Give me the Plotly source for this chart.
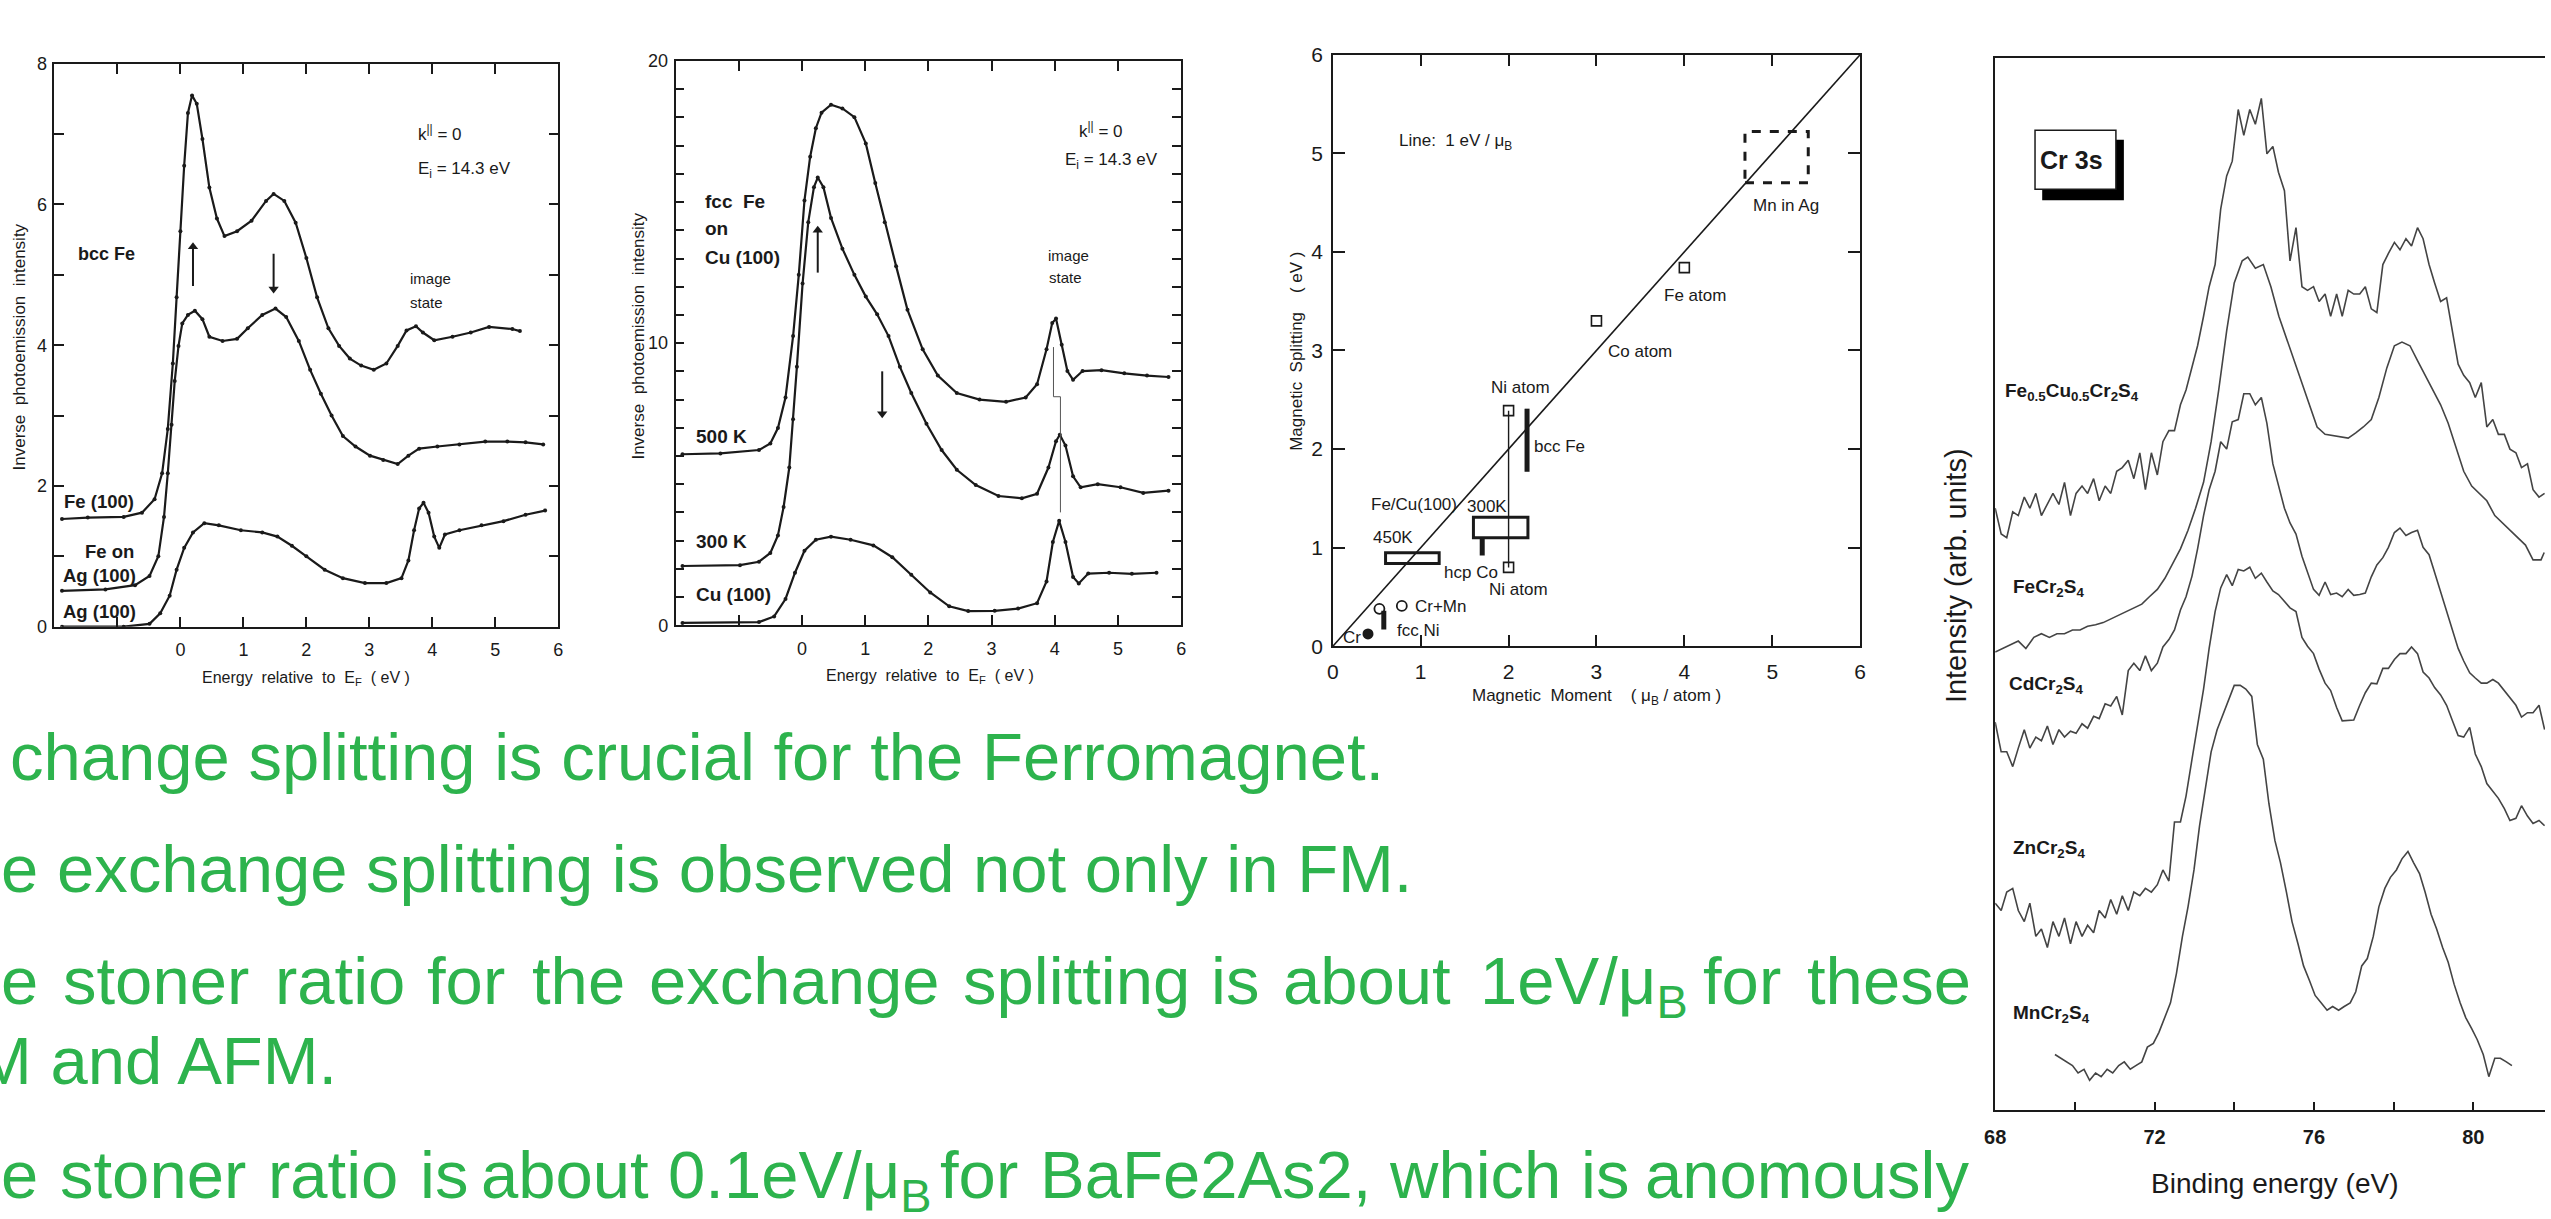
import plotly.graph_objects as go

W, H = 2551, 1219
FONT = "Liberation Sans, Arial, Helvetica, sans-serif"
GREEN = "#2DB34D"
INK = "#1a1a1a"
GREY = "#444444"

# ---------------- Panel 1: bcc Fe inverse photoemission ----------------
p1_fe100_x = [-1.88, -1.47, -0.90, -0.61, -0.41, -0.29, -0.20, -0.12, -0.06, 0.00, 0.06, 0.12, 0.185, 0.26,
              0.35, 0.46, 0.58, 0.70, 0.90, 1.13, 1.36, 1.48, 1.65, 1.83, 2.00, 2.17, 2.35, 2.52, 2.69, 2.87,
              3.07, 3.27, 3.45, 3.59, 3.74, 3.85, 4.03, 4.32, 4.61, 4.90, 5.27, 5.39]
p1_fe100_y = [1.53, 1.55, 1.56, 1.62, 1.81, 2.18, 2.81, 3.74, 4.68, 5.62, 6.55, 7.30, 7.55, 7.43,
              6.93, 6.24, 5.80, 5.55, 5.62, 5.77, 6.05, 6.15, 6.05, 5.74, 5.24, 4.68, 4.24, 3.99, 3.81, 3.71,
              3.65, 3.74, 3.99, 4.21, 4.27, 4.18, 4.07, 4.12, 4.18, 4.26, 4.23, 4.20]
p1_feag_x = [-1.88, -1.19, -0.72, -0.49, -0.35, -0.26, -0.20, -0.14, -0.09, -0.03, 0.03, 0.12, 0.23, 0.35,
             0.46, 0.67, 0.90, 1.07, 1.30, 1.51, 1.68, 1.88, 2.06, 2.23, 2.40, 2.58, 2.78, 3.01, 3.22, 3.45,
             3.62, 3.79, 4.08, 4.43, 4.84, 5.19, 5.48, 5.76]
p1_feag_y = [0.51, 0.53, 0.59, 0.72, 1.00, 1.56, 2.18, 2.87, 3.49, 3.99, 4.31, 4.43, 4.49, 4.37,
             4.12, 4.06, 4.09, 4.24, 4.43, 4.52, 4.40, 4.06, 3.65, 3.31, 3.00, 2.71, 2.56, 2.43, 2.37, 2.31,
             2.43, 2.53, 2.56, 2.59, 2.63, 2.63, 2.62, 2.59]
p1_ag_x = [-1.88, -0.90, -0.49, -0.32, -0.17, -0.06, 0.06, 0.20, 0.38, 0.61, 0.96, 1.30, 1.54, 1.77, 2.00,
           2.29, 2.58, 2.93, 3.27, 3.51, 3.62, 3.71, 3.79, 3.86, 3.94, 4.03, 4.11, 4.20, 4.43, 4.78, 5.13,
           5.48, 5.79]
p1_ag_y = [0.00, 0.00, 0.04, 0.19, 0.44, 0.81, 1.12, 1.34, 1.47, 1.44, 1.37, 1.34, 1.28, 1.15, 1.00,
           0.81, 0.69, 0.62, 0.62, 0.69, 0.94, 1.37, 1.68, 1.76, 1.62, 1.28, 1.12, 1.31, 1.37, 1.44, 1.50,
           1.59, 1.65]
p1_xtick_vals = [0, 1, 2, 3, 4, 5, 6]
p1_xminor_vals = [-1]
p1_ytick_vals = [0, 2, 4, 6, 8]
p1_yminor_vals = [1, 3, 5, 7]
# spin arrows: x, head y, tail y
p1_arrow_x = [0.20, 1.48]
p1_arrow_head = [5.40, 4.80]
p1_arrow_tail = [4.84, 5.30]

# ---------------- Panel 2: fcc Fe on Cu(100) ----------------
p2_500_x = [-1.89, -1.29, -0.68, -0.50, -0.38, -0.26, -0.14, -0.05, 0.04, 0.13, 0.22, 0.31, 0.46, 0.64,
            0.83, 1.01, 1.16, 1.31, 1.49, 1.67, 1.91, 2.15, 2.45, 2.81, 3.23, 3.54, 3.72, 3.87, 3.96, 4.02,
            4.11, 4.20, 4.29, 4.44, 4.74, 5.10, 5.46, 5.80]
p2_500_y = [6.06, 6.09, 6.21, 6.44, 6.99, 8.07, 10.25, 12.42, 15.06, 16.61, 17.62, 18.17, 18.45, 18.32,
            18.01, 17.08, 15.68, 14.29, 12.73, 11.18, 9.78, 8.85, 8.23, 8.00, 7.92, 8.07, 8.54, 9.78, 10.71,
            10.87, 9.94, 9.01, 8.70, 9.01, 9.04, 8.93, 8.85, 8.80]
p2_300_x = [-1.89, -0.98, -0.68, -0.50, -0.38, -0.29, -0.20, -0.14, -0.08, 0.01, 0.10, 0.19, 0.25, 0.34,
            0.46, 0.64, 0.83, 1.01, 1.19, 1.37, 1.55, 1.73, 1.97, 2.21, 2.45, 2.75, 3.11, 3.48, 3.72, 3.90,
            4.02, 4.08, 4.17, 4.29, 4.41, 4.68, 5.04, 5.40, 5.80]
p2_300_y = [2.10, 2.13, 2.25, 2.56, 3.18, 4.19, 5.59, 7.30, 9.16, 12.11, 14.29, 15.53, 15.87, 15.53,
            14.44, 13.35, 12.42, 11.65, 11.02, 10.25, 9.16, 8.23, 7.14, 6.21, 5.51, 4.97, 4.58, 4.50, 4.66,
            5.59, 6.52, 6.75, 6.37, 5.28, 4.89, 5.00, 4.89, 4.69, 4.77]
p2_cu_x = [-1.89, -0.68, -0.44, -0.26, -0.11, 0.04, 0.22, 0.46, 0.77, 1.13, 1.43, 1.73, 2.03, 2.33, 2.63,
           3.05, 3.42, 3.72, 3.87, 3.97, 4.07, 4.17, 4.29, 4.38, 4.53, 4.86, 5.22, 5.61]
p2_cu_y = [0.08, 0.11, 0.31, 0.93, 1.86, 2.64, 3.03, 3.14, 3.03, 2.83, 2.41, 1.79, 1.16, 0.67, 0.50,
           0.51, 0.59, 0.78, 1.55, 2.95, 3.70, 2.95, 1.71, 1.48, 1.83, 1.86, 1.82, 1.86]
p2_guide_x = [3.98, 3.98, 4.09, 4.09]
p2_guide_y = [9.86, 8.10, 8.10, 4.00]
p2_ytick_vals = [0, 10, 20]
p2_yminor_vals = [1, 2, 3, 4, 5, 6, 7, 8, 9, 11, 12, 13, 14, 15, 16, 17, 18, 19]
p2_arrow_x = [0.25, 1.27]
p2_arrow_head = [14.0, 7.5]
p2_arrow_tail = [12.5, 9.0]

# ---------------- Panel 3: magnetic splitting vs moment ----------------
p3_line_x = [0, 6]
p3_line_y = [0, 6]
p3_sq_x = [2.0, 2.0, 3.0, 4.0]
p3_sq_y = [2.39, 0.80, 3.30, 3.84]
p3_niline_x = [2.0, 2.0]
p3_niline_y = [0.80, 2.39]
p3_opencirc_x = [0.53, 0.785]
p3_opencirc_y = [0.38, 0.41]
p3_cr_x = [0.40]
p3_cr_y = [0.126]
p3_bar_x = [2.21, 1.70, 0.58]
p3_bar_lo = [1.77, 0.92, 0.17]
p3_bar_hi = [2.41, 1.10, 0.36]
p3_box_x0 = [1.60, 0.60]
p3_box_x1 = [2.22, 1.21]
p3_box_y0 = [1.10, 0.84]
p3_box_y1 = [1.31, 0.95]
p3_mn_box = (4.69, 5.41, 4.70, 5.22)
p3_ticks = [0, 1, 2, 3, 4, 5, 6]

# ---------------- Panel 4: Cr 3s XPS ----------------
p4_x_fecu = [68.00, 68.15, 68.29, 68.44, 68.58, 68.73, 68.87, 69.02, 69.16, 69.31, 69.45, 69.60, 69.74, 69.89,
             70.03, 70.18, 70.32, 70.47, 70.61, 70.76, 70.90, 71.05, 71.19, 71.34, 71.48, 71.63, 71.77, 71.92,
             72.07, 72.21, 72.36, 72.50, 72.65, 72.79, 72.94, 73.08, 73.23, 73.37, 73.52, 73.66, 73.81, 73.95,
             74.10, 74.24, 74.39, 74.53, 74.68, 74.82, 74.97, 75.11, 75.26, 75.40, 75.55, 75.70, 75.84, 75.99,
             76.13, 76.28, 76.42, 76.57, 76.71, 76.86, 77.00, 77.15, 77.29, 77.44, 77.58, 77.73, 77.87, 78.02,
             78.16, 78.31, 78.45, 78.60, 78.74, 78.89, 79.03, 79.18, 79.33, 79.47, 79.62, 79.76, 79.91, 80.05,
             80.20, 80.34, 80.49, 80.63, 80.78, 80.92, 81.07, 81.21, 81.36, 81.50, 81.65, 81.79]
p4_y_fecu = [81.5, 78.0, 77.5, 81.0, 80.5, 83.0, 81.5, 83.5, 80.5, 82.0,
             83.5, 82.0, 85.0, 80.5, 83.5, 84.5, 83.5, 85.5, 82.5, 84.5,
             83.5, 86.5, 87.0, 88.0, 85.5, 89.0, 84.0, 89.0, 86.0, 90.5,
             92.0, 92.0, 95.5, 97.5, 100.5, 103.5, 107.5, 111.5, 114.5, 122.0,
             126.5, 128.5, 135.5, 132.0, 135.5, 133.5, 137.0, 129.5, 130.5, 127.0,
             124.5, 115.0, 119.5, 111.5, 111.0, 111.5, 109.5, 110.5, 107.5, 110.5,
             107.5, 111.0, 110.5, 110.5, 111.5, 108.5, 108.0, 114.5, 116.0, 117.5,
             116.5, 118.0, 117.0, 119.5, 118.0, 114.5, 112.0, 109.5, 110.0, 105.5,
             101.0, 99.5, 98.5, 96.5, 98.5, 92.5, 93.5, 91.5, 91.5, 89.5,
             89.0, 87.0, 87.5, 84.0, 83.0, 83.5]
p4_x_fe = [68.00, 68.19, 68.39, 68.58, 68.77, 68.97, 69.16, 69.36, 69.55, 69.74, 69.94, 70.13, 70.32, 70.52,
           70.71, 70.90, 71.10, 71.29, 71.48, 71.68, 71.87, 72.07, 72.26, 72.45, 72.65, 72.84, 73.03, 73.23,
           73.42, 73.61, 73.81, 74.00, 74.20, 74.34, 74.53, 74.73, 74.92, 75.12, 75.31, 75.50, 75.70, 75.89,
           76.08, 76.28, 76.57, 76.86, 77.05, 77.24, 77.44, 77.63, 77.83, 78.02, 78.21, 78.41, 78.60, 78.79,
           78.99, 79.18, 79.37, 79.57, 79.76, 79.96, 80.15, 80.34, 80.54, 80.73, 80.92, 81.12, 81.31, 81.50,
           81.70, 81.78]
p4_y_fe = [62.0, 62.5, 63.0, 63.5, 62.5, 64.0, 64.5, 64.0, 64.5, 64.5,
           65.0, 65.0, 65.5, 65.7, 66.0, 66.5, 67.0, 67.5, 68.0, 68.5,
           69.5, 70.5, 72.0, 74.0, 76.0, 78.5, 81.5, 85.0, 90.5, 97.5,
           105.5, 112.0, 115.0, 115.5, 114.0, 114.5, 111.5, 107.5, 104.5, 101.5,
           98.5, 95.5, 92.5, 91.5, 91.3, 91.0, 91.7, 92.5, 93.5, 96.5,
           100.5, 103.5, 104.0, 103.5, 101.5, 99.5, 97.5, 95.5, 93.0, 89.5,
           86.5, 84.5, 83.5, 82.5, 80.5, 79.5, 78.5, 77.5, 76.5, 74.5,
           74.5, 75.5]
p4_x_cd = p4_x_fecu
p4_y_cd = [52.5, 48.5, 48.5, 46.5, 49.0, 51.5, 49.0, 50.5, 50.0, 52.0,
           49.5, 51.5, 50.5, 51.3, 51.0, 52.3, 51.7, 53.3, 53.0, 55.0,
           54.7, 56.0, 53.5, 59.5, 60.5, 59.5, 61.5, 59.5, 60.5, 62.7,
           63.7, 65.0, 67.7, 69.5, 72.3, 76.0, 80.5, 84.0, 86.5, 90.5,
           89.5, 93.2, 93.5, 97.0, 97.0, 95.5, 96.5, 93.0, 87.5, 84.5,
           81.5, 79.5, 78.0, 75.0, 72.8, 70.5, 69.7, 71.5, 69.8, 70.0,
           69.5, 70.5, 69.7, 69.8, 70.0, 72.2, 73.8, 74.8, 76.2, 78.2,
           78.8, 77.8, 78.2, 78.5, 76.2, 75.2, 72.8, 70.2, 67.5, 65.2,
           62.5, 60.8, 59.2, 58.5, 57.8, 57.8, 58.3, 57.8, 56.8, 55.8,
           54.8, 53.2, 53.8, 53.8, 54.8, 51.5]
p4_x_zn = p4_x_fecu
p4_y_zn = [28.0, 27.0, 29.5, 30.0, 27.0, 25.5, 28.0, 23.5, 24.5, 22.0,
           25.5, 23.5, 26.0, 22.5, 25.5, 23.5, 25.0, 24.0, 27.0, 26.0,
           28.5, 26.5, 29.0, 27.0, 29.5, 29.0, 30.0, 29.5, 30.5, 32.5,
           31.0, 39.0, 39.0, 42.5, 47.5, 52.0, 57.0, 62.5, 67.5, 70.7,
           72.5, 71.0, 73.2, 73.0, 73.5, 72.0, 72.7, 71.5, 70.3, 69.8,
           68.8, 68.0, 67.5, 64.0, 62.8, 61.8, 59.7, 57.8, 56.8, 54.5,
           52.7, 52.7, 52.8, 54.8, 56.5, 57.8, 57.7, 59.8, 59.8, 61.0,
           61.8, 61.8, 62.7, 61.8, 59.3, 58.5, 57.2, 56.2, 54.8, 52.8,
           50.7, 50.5, 51.8, 48.2, 46.5, 44.2, 43.2, 42.2, 40.8, 39.2,
           39.5, 41.2, 39.8, 38.8, 39.2, 38.5]
p4_x_mn = [69.50, 69.65, 69.79, 69.94, 70.08, 70.23, 70.37, 70.52, 70.66, 70.81,
           70.95, 71.10, 71.24, 71.39, 71.53, 71.68, 71.82, 71.97, 72.11, 72.26,
           72.40, 72.55, 72.70, 72.84, 72.99, 73.13, 73.28, 73.42, 73.57, 73.71,
           73.86, 74.00, 74.15, 74.29, 74.44, 74.58, 74.73, 74.87, 75.02, 75.16,
           75.31, 75.45, 75.60, 75.74, 75.89, 76.03, 76.18, 76.33, 76.47, 76.62,
           76.76, 76.91, 77.05, 77.20, 77.34, 77.49, 77.63, 77.78, 77.92, 78.07,
           78.21, 78.36, 78.50, 78.65, 78.79, 78.94, 79.08, 79.23, 79.37, 79.52,
           79.67, 79.81, 79.96, 80.10, 80.25, 80.39, 80.54, 80.68, 80.83, 80.97]
p4_y_mn = [7.5, 7.0, 6.5, 6.0, 5.0, 5.5, 4.0, 5.0, 4.5, 5.5,
           5.0, 6.0, 6.5, 5.5, 6.0, 6.5, 8.5, 9.0, 10.5, 12.5,
           14.5, 18.5, 23.5, 27.5, 32.5, 38.5, 43.5, 48.5, 51.5, 53.5,
           55.5, 57.5, 57.5, 57.0, 56.0, 49.5, 47.5, 41.5, 36.5, 33.5,
           29.5, 25.5, 22.5, 19.5, 17.5, 15.5, 14.5, 13.5, 14.0, 13.5,
           14.0, 14.5, 16.0, 19.5, 20.5, 23.5, 27.5, 30.0, 31.5, 32.5,
           34.0, 35.0, 33.5, 32.0, 29.5, 26.5, 24.5, 22.0, 20.0, 17.0,
           14.5, 12.5, 11.0, 9.5, 7.5, 4.5, 7.0, 7.0, 6.5, 6.0]
p4_labels = ["Fe<sub>0.5</sub>Cu<sub>0.5</sub>Cr<sub>2</sub>S<sub>4</sub>", "FeCr<sub>2</sub>S<sub>4</sub>",
             "CdCr<sub>2</sub>S<sub>4</sub>", "ZnCr<sub>2</sub>S<sub>4</sub>", "MnCr<sub>2</sub>S<sub>4</sub>"]
p4_label_x = [68.24, 68.44, 68.34, 68.44, 68.44]
p4_label_y = [97.3, 70.7, 57.5, 35.3, 13.0]
p4_xtick_vals = [68, 72, 76, 80]
p4_xminor_vals = [70, 74, 78]

# ---------------- layout helpers (pixel frame of each panel) ----------------
def fx(p):
    return p / W

def fy(p):
    return 1 - p / H

P1 = (43.7, 551.0, 52.7, 626.5)
P2 = (669.0, 1178.0, 50.0, 625.0)
P3 = (1330.7, 1861.5, 43.5, 646.5)
P4 = (1997.5, W, 46.7, 1119.0)

fig = go.Figure()

def curve(x, y, ax, ay, markers=True, color=INK, width=2.2):
    fig.add_trace(go.Scatter(x=x, y=y, xaxis=ax, yaxis=ay, mode="lines+markers" if markers else "lines",
                             line=dict(color=color, width=width),
                             marker=dict(size=4, color=color), hoverinfo="skip", showlegend=False))

def arrows(xs, heads, tails, ax, ay):
    for x, h, t in zip(xs, heads, tails):
        curve([x, x], [t, h], ax, ay, markers=False, width=2)
        sym = "triangle-up" if h > t else "triangle-down"
        fig.add_trace(go.Scatter(x=[x], y=[h], xaxis=ax, yaxis=ay, mode="markers",
                                 marker=dict(symbol=sym, size=9, color=INK),
                                 hoverinfo="skip", showlegend=False))

curve(p1_fe100_x, p1_fe100_y, "x", "y")
curve(p1_feag_x, p1_feag_y, "x", "y")
curve(p1_ag_x, p1_ag_y, "x", "y")
arrows(p1_arrow_x, p1_arrow_head, p1_arrow_tail, "x", "y")

curve(p2_500_x, p2_500_y, "x2", "y2")
curve(p2_300_x, p2_300_y, "x2", "y2")
curve(p2_cu_x, p2_cu_y, "x2", "y2")
curve(p2_guide_x, p2_guide_y, "x2", "y2", markers=False, color="#555555", width=1)
arrows(p2_arrow_x, p2_arrow_head, p2_arrow_tail, "x2", "y2")

curve(p3_line_x, p3_line_y, "x3", "y3", markers=False, width=1.6)
curve(p3_niline_x, p3_niline_y, "x3", "y3", markers=False, width=1.4)
for bx, b0, b1 in zip(p3_bar_x, p3_bar_lo, p3_bar_hi):
    curve([bx, bx], [b0, b1], "x3", "y3", markers=False, width=5)
fig.add_trace(go.Scatter(x=p3_sq_x, y=p3_sq_y, xaxis="x3", yaxis="y3", mode="markers",
                         marker=dict(symbol="square-open", size=10, color=INK, line=dict(width=1.6)),
                         hoverinfo="skip", showlegend=False))
fig.add_trace(go.Scatter(x=p3_opencirc_x, y=p3_opencirc_y, xaxis="x3", yaxis="y3", mode="markers",
                         marker=dict(symbol="circle-open", size=10, color=INK, line=dict(width=1.8)),
                         hoverinfo="skip", showlegend=False))
fig.add_trace(go.Scatter(x=p3_cr_x, y=p3_cr_y, xaxis="x3", yaxis="y3", mode="markers",
                         marker=dict(symbol="circle", size=11, color=INK),
                         hoverinfo="skip", showlegend=False))

for xs, ys in [(p4_x_fecu, p4_y_fecu), (p4_x_fe, p4_y_fe), (p4_x_cd, p4_y_cd),
               (p4_x_zn, p4_y_zn), (p4_x_mn, p4_y_mn)]:
    curve(xs, ys, "x4", "y4", markers=False, color=GREY, width=1.6)

shapes = []
for x0, x1, y0, y1 in zip(p3_box_x0, p3_box_x1, p3_box_y0, p3_box_y1):
    shapes.append(dict(type="rect", xref="x3", yref="y3", x0=x0, x1=x1, y0=y0, y1=y1,
                       line=dict(color=INK, width=3), fillcolor="rgba(0,0,0,0)"))
shapes.append(dict(type="rect", xref="x3", yref="y3", x0=p3_mn_box[0], x1=p3_mn_box[1],
                   y0=p3_mn_box[2], y1=p3_mn_box[3], line=dict(color=INK, width=3, dash="dash")))
# Cr 3s label box with drop shadow
shapes.append(dict(type="rect", xref="x4", yref="y4", x0=69.18, x1=71.23, y0=123.2, y1=131.4,
                   line=dict(width=0), fillcolor="black"))
shapes.append(dict(type="rect", xref="x4", yref="y4", x0=69.00, x1=71.03, y0=124.7, y1=132.7,
                   line=dict(color=INK, width=1.5), fillcolor="white"))

def frame(domain, rng, tv, anchor, ticklen, fsize, minor_vals=None, mirror="ticks", standoff=None,
          bold=False, **kw):
    tt = [("<b>%s</b>" % v) if bold else str(v) for v in tv]
    d = dict(domain=domain, range=rng, tickmode="array", tickvals=tv, ticktext=tt,
             ticks="inside", ticklen=ticklen, tickwidth=1.5, tickcolor=INK,
             showline=True, linecolor=INK, linewidth=1.6, mirror=mirror,
             showgrid=False, zeroline=False, anchor=anchor, fixedrange=True,
             tickfont=dict(family=FONT, size=fsize, color=INK))
    if minor_vals:
        d["minor"] = dict(tickmode="array", tickvals=minor_vals, ticks="inside", ticklen=ticklen,
                          tickwidth=1.5, tickcolor=INK, showgrid=False)
    if standoff is not None:
        d["ticklabelstandoff"] = standoff
    d.update(kw)
    return d

layout = dict(
    width=W, height=H, autosize=False,
    margin=dict(l=0, r=0, t=0, b=0, pad=0),
    paper_bgcolor="white", plot_bgcolor="white", showlegend=False,
    xaxis=frame([fx(P1[0]), fx(P1[1])], [-2, 6], p1_xtick_vals, "y", 10, 18, p1_xminor_vals, standoff=6),
    yaxis=frame([fy(P1[3]), fy(P1[2])], [0, 8], p1_ytick_vals, "x", 10, 18, p1_yminor_vals, standoff=2),
    xaxis2=frame([fx(P2[0]), fx(P2[1])], [-2, 6], p1_xtick_vals, "y2", 10, 18, p1_xminor_vals, standoff=6),
    yaxis2=frame([fy(P2[3]), fy(P2[2])], [0, 20], p2_ytick_vals, "x2", 9, 18, p2_yminor_vals, standoff=2),
    xaxis3=frame([fx(P3[0]), fx(P3[1])], [0, 6], p3_ticks, "y3", 12, 21, standoff=6),
    yaxis3=frame([fy(P3[3]), fy(P3[2])], [0, 6], p3_ticks, "x3", 12, 21, standoff=4),
    xaxis4=frame([fx(P4[0]), 1.0], [68, 81.8], p4_xtick_vals, "y4", 8, 20, p4_xminor_vals, mirror=True,
                 standoff=8, bold=True),
    yaxis4=dict(domain=[fy(P4[3]), fy(P4[2])], range=[0, 142.5], anchor="x4", showline=True,
                linecolor=INK, linewidth=1.6, mirror=False, ticks="", showticklabels=False,
                showgrid=False, zeroline=False, fixedrange=True),
    shapes=shapes,
)

ann = []

def note(x, y, text, xref, yref, size, bold=False, xanchor="left", yanchor="middle", color=INK, angle=0):
    ann.append(dict(x=x, y=y, xref=xref, yref=yref, text=("<b>%s</b>" % text) if bold else text,
                    showarrow=False, xanchor=xanchor, yanchor=yanchor, textangle=angle,
                    font=dict(family=FONT, size=size, color=color), borderpad=0, borderwidth=0))

# panel 1 labels
note(-1.62, 5.30, "bcc Fe", "x", "y", 18, bold=True)
note(-1.85, 1.78, "Fe (100)", "x", "y", 18.5, bold=True)
note(-1.52, 1.07, "Fe on", "x", "y", 18.5, bold=True)
note(-1.87, 0.73, "Ag (100)", "x", "y", 18.5, bold=True)
note(-1.87, 0.22, "Ag (100)", "x", "y", 18.5, bold=True)
note(3.78, 7.02, "k<sup>||</sup> = 0", "x", "y", 17)
note(3.77, 6.49, "E<sub>i</sub> = 14.3 eV", "x", "y", 17)
note(3.65, 4.95, "image", "x", "y", 15)
note(3.65, 4.60, "state", "x", "y", 15)
# panel 2 labels
note(-1.54, 15.03, "fcc  Fe", "x2", "y2", 19, bold=True)
note(-1.54, 14.05, "on", "x2", "y2", 19, bold=True)
note(-1.54, 13.04, "Cu (100)", "x2", "y2", 19, bold=True)
note(-1.67, 6.68, "500 K", "x2", "y2", 19, bold=True)
note(-1.67, 2.95, "300 K", "x2", "y2", 19, bold=True)
note(-1.67, 1.09, "Cu (100)", "x2", "y2", 19, bold=True)
note(4.38, 17.55, "k<sup>||</sup> = 0", "x2", "y2", 17)
note(4.17, 16.46, "E<sub>i</sub> = 14.3 eV", "x2", "y2", 17)
note(3.90, 13.12, "image", "x2", "y2", 15)
note(3.91, 12.31, "state", "x2", "y2", 15)
# panel 3 labels
note(0.75, 5.11, "Line:  1 eV / μ<sub>B</sub>", "x3", "y3", 17)
for t, x, y in [("Mn in Ag", 5.16, 4.47), ("Fe atom", 4.12, 3.56), ("Co atom", 3.50, 2.99),
                ("Ni atom", 2.13, 2.62), ("bcc Fe", 2.58, 2.03), ("Fe/Cu(100)", 0.92, 1.44),
                ("300K", 1.75, 1.42), ("450K", 0.68, 1.10), ("hcp Co", 1.57, 0.75),
                ("Ni atom", 2.11, 0.58), ("Cr+Mn", 1.22, 0.40), ("fcc Ni", 0.97, 0.16), ("Cr", 0.22, 0.09)]:
    note(x, y, t, "x3", "y3", 17, xanchor="center")
# panel 4 labels
for t, x, y in zip(p4_labels, p4_label_x, p4_label_y):
    note(x, y, t, "x4", "y4", 19, bold=True)
note(69.92, 128.6, "Cr 3s", "x4", "y4", 25, bold=True, xanchor="center")

# axis titles
note(fx(297), fy(679), "Energy  relative  to  E<sub>F</sub>  ( eV )", "paper", "paper", 16, xanchor="center")
note(fx(925), fy(677), "Energy  relative  to  E<sub>F</sub>  ( eV )", "paper", "paper", 16, xanchor="center")
note(fx(9), fy(341), "Inverse  photoemission  intensity", "paper", "paper", 17, xanchor="center", angle=-90)
note(fx(632), fy(330), "Inverse  photoemission  intensity", "paper", "paper", 17, xanchor="center", angle=-90)
note(fx(1596), fy(698), "Magnetic  Moment    ( μ<sub>B</sub> / atom )", "paper", "paper", 17, xanchor="center")
note(fx(1294), fy(346), "Magnetic  Splitting    ( eV )", "paper", "paper", 17, xanchor="center", angle=-90)
note(fx(2279), fy(1194), "Binding energy (eV)", "paper", "paper", 28, xanchor="center")
note(fx(1958), fy(574), "Intensity (arb. units)", "paper", "paper", 29, xanchor="center", angle=-90)

# green slide text
TXT = 67
SHIFT = -10
def green(x, baseline, text, xanchor="left"):
    note(fx(x + SHIFT), fy(baseline - 62), text, "paper", "paper", TXT, xanchor=xanchor, yanchor="top",
         color=GREEN)

green(9, 783, "change splitting is crucial for the Ferromagnet.")
green(0, 897, "e exchange splitting is observed not only in FM.")
line3 = [("e", 0), ("stoner", 62), ("ratio", 276), ("for", 429), ("the", 534), ("exchange", 652),
         ("splitting", 968), ("is", 1218), ("about", 1291), ("1eV/μ<sub>B</sub>", 1489), ("for", 1713),
         ("these", 1818)]
for w, x in line3:
    green(x, 1011, w)
green(338, 1092, "M and AFM.", xanchor="right")
line5 = [("e", 0), ("stoner", 59), ("ratio", 269), ("is", 422), ("about", 483), ("0.1eV/μ<sub>B</sub>", 671),
         ("for", 945), ("BaFe2As2,", 1046), ("which", 1397), ("is", 1591), ("anomously", 1655)]
for w, x in line5:
    green(x, 1209, w)

layout["annotations"] = ann
fig.update_layout(**layout)
fig.write_html("out.html", include_plotlyjs=True, config={"displayModeBar": False})
